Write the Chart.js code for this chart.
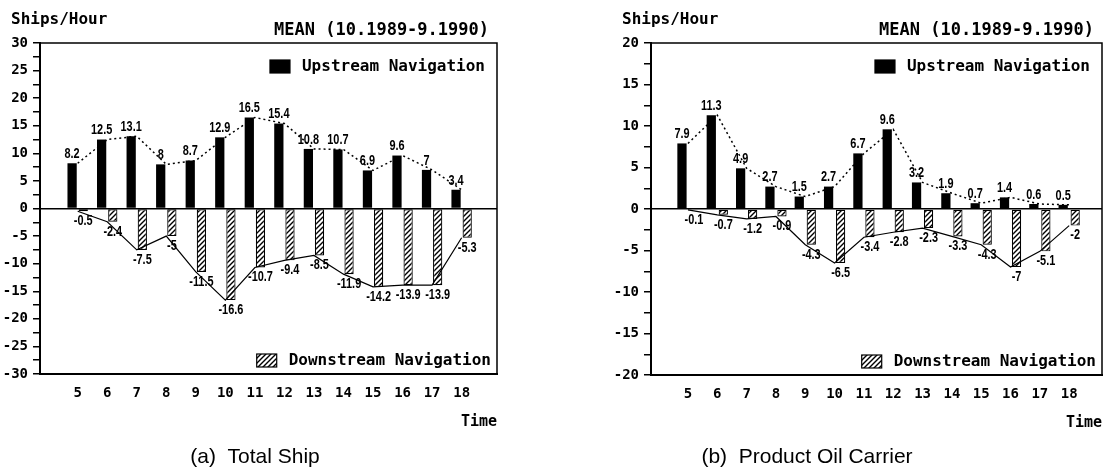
<!DOCTYPE html>
<html>
<head>
<meta charset="utf-8">
<script src="https://cdn.jsdelivr.net/npm/chart.js@4.4.0/dist/chart.umd.min.js"></script>
<style>
  body { margin: 0; background: #fff; }
  .panel { position: absolute; top: 0; width: 552px; height: 474px; }
</style>
</head>
<body>
<div class="panel" style="left:0"><canvas id="totalChart" width="552" height="474"></canvas></div>
<div class="panel" style="left:552px"><canvas id="oilChart" width="552" height="474"></canvas></div>
<script>
const hours = [5, 6, 7, 8, 9, 10, 11, 12, 13, 14, 15, 16, 17, 18];

const totalUp = [8.2, 12.5, 13.1, 8, 8.7, 12.9, 16.5, 15.4, 10.8, 10.7, 6.9, 9.6, 7, 3.4];
const totalDown = [-0.5, -2.4, -7.5, -5, -11.5, -16.6, -10.7, -9.4, -8.5, -11.9, -14.2, -13.9, -13.9, -5.3];
const totalYRange = [-30, 30];

const oilUp = [7.9, 11.3, 4.9, 2.7, 1.5, 2.7, 6.7, 9.6, 3.2, 1.9, 0.7, 1.4, 0.6, 0.5];
const oilDown = [-0.1, -0.7, -1.2, -0.9, -4.3, -6.5, -3.4, -2.8, -2.3, -3.3, -4.3, -7, -5.1, -2];
const oilYRange = [-20, 20];

const MONO = "'DejaVu Sans Mono', 'Liberation Mono', monospace";
const SANS = "'Liberation Sans', Arial, sans-serif";

function makeHatch() {
  const c = document.createElement('canvas');
  c.width = 5; c.height = 5;
  const g = c.getContext('2d');
  g.fillStyle = '#fff';
  g.fillRect(0, 0, 5, 5);
  g.strokeStyle = '#000';
  g.lineWidth = 1.4;
  g.beginPath();
  g.moveTo(-1, 6); g.lineTo(6, -1);
  g.moveTo(-1, 1); g.lineTo(1, -1);
  g.moveTo(4, 6); g.lineTo(6, 4);
  g.stroke();
  return g.createPattern(c, 'repeat');
}
const hatch = makeHatch();

function drawText(ctx, text, x, y, font, align, baseline, sx) {
  ctx.save();
  ctx.font = font;
  ctx.textAlign = align;
  ctx.textBaseline = baseline;
  ctx.fillStyle = '#000';
  ctx.translate(x, y);
  ctx.scale(sx, 1);
  ctx.fillText(text, 0, 0);
  ctx.restore();
}

function legendItem(ctx, text, right, y, fill) {
  ctx.save();
  ctx.font = `bold 16px ${MONO}`;
  const w = ctx.measureText(text).width;
  ctx.restore();
  drawText(ctx, text, right, y, `bold 16px ${MONO}`, 'right', 'middle', 1);
  const bx = right - w - 12 - 20;
  ctx.save();
  ctx.fillStyle = fill;
  ctx.fillRect(bx, y - 7, 20, 13);
  ctx.strokeStyle = '#000';
  ctx.lineWidth = 1.2;
  ctx.strokeRect(bx, y - 7, 20, 13);
  ctx.restore();
}

function makeDecor(caption) {
  return {
    id: 'decor',
    afterDatasetsDraw(chart) {
      const ctx = chart.ctx;
      [0, 1].forEach(di => {
        const ds = chart.data.datasets[di];
        chart.getDatasetMeta(di).data.forEach((el, i) => {
          const v = ds.data[i].y;
          if (v >= 0) {
            drawText(ctx, String(v), el.x, el.y - 2, `bold 14px ${SANS}`, 'center', 'bottom', 0.78);
          } else {
            drawText(ctx, String(v), el.x, el.y + 3, `bold 14px ${SANS}`, 'center', 'top', 0.78);
          }
        });
      });
    },
    afterDraw(chart) {
      const ctx = chart.ctx;
      const a = chart.chartArea;
      ctx.save();
      ctx.strokeStyle = '#000';
      ctx.lineWidth = 1.5;
      ctx.beginPath();
      ctx.moveTo(a.left, a.top);
      ctx.lineTo(a.right, a.top);
      ctx.lineTo(a.right, a.bottom);
      ctx.stroke();
      ctx.restore();

      drawText(ctx, 'Ships/Hour', a.left - 29, 20, `bold 16px ${MONO}`, 'left', 'middle', 1);
      drawText(ctx, 'MEAN (10.1989-9.1990)', a.right - 8, 31, `bold 17px ${MONO}`, 'right', 'middle', 1);

      legendItem(ctx, 'Upstream Navigation', a.right - 12, a.top + 24, '#000');
      legendItem(ctx, 'Downstream Navigation', a.right - 6, a.bottom - 13, hatch);

      drawText(ctx, caption, 255, 457, `21px ${SANS}`, 'center', 'middle', 1);
    }
  };
}

function buildChart(canvasId, up, down, yRange, xMin, xMax, pad, catPct, barPct, caption) {
  const upPoints = hours.map((h, i) => ({ x: h, y: up[i] }));
  const downPoints = hours.map((h, i) => ({ x: h, y: down[i] }));

  return new Chart(document.getElementById(canvasId), {
    type: 'bar',
    data: {
      datasets: [
        {
          label: 'Upstream Navigation',
          data: upPoints,
          backgroundColor: '#000',
          borderWidth: 0,
          categoryPercentage: catPct,
          barPercentage: barPct,
          order: 2
        },
        {
          label: 'Downstream Navigation',
          data: downPoints,
          backgroundColor: hatch,
          borderColor: '#000',
          borderWidth: 1.2,
          borderSkipped: false,
          categoryPercentage: catPct,
          barPercentage: barPct,
          order: 2
        },
        {
          type: 'line',
          data: upPoints,
          borderColor: '#000',
          borderWidth: 1.5,
          borderDash: [2, 3],
          pointRadius: 0,
          tension: 0,
          order: 1
        },
        {
          type: 'line',
          data: downPoints,
          borderColor: '#000',
          borderWidth: 1.2,
          pointRadius: 0,
          tension: 0,
          order: 1
        }
      ]
    },
    options: {
      responsive: false,
      animation: false,
      devicePixelRatio: 1,
      layout: { padding: pad },
      plugins: {
        legend: { display: false },
        tooltip: { enabled: false }
      },
      scales: {
        x: {
          type: 'linear',
          min: xMin,
          max: xMax,
          afterFit: scale => { scale.height = 60; },
          grid: { display: false, drawTicks: false },
          border: { display: true, color: '#000', width: 2 },
          ticks: {
            stepSize: 1,
            includeBounds: false,
            padding: 11,
            color: '#000',
            font: { family: MONO, size: 14, weight: 'bold' }
          },
          title: {
            display: true,
            text: 'Time',
            align: 'end',
            color: '#000',
            font: { family: MONO, size: 15, weight: 'bold' },
            padding: { top: 0, bottom: 3 }
          }
        },
        y: {
          min: yRange[0],
          max: yRange[1],
          afterFit: scale => { scale.width = 40; },
          grid: {
            drawOnChartArea: true,
            color: c => (c.tick && c.tick.value === 0 ? '#000' : 'rgba(0,0,0,0)'),
            lineWidth: 1.5,
            tickColor: '#000',
            tickLength: 7,
            tickWidth: 1.5
          },
          border: { display: true, color: '#000', width: 2 },
          ticks: {
            stepSize: 2.5,
            autoSkip: false,
            padding: 5,
            color: '#000',
            font: { family: MONO, size: 14, weight: 'bold' },
            callback: v => (v % 5 === 0 ? v : '')
          }
        }
      }
    },
    plugins: [makeDecor(caption)]
  });
}

buildChart('totalChart', totalUp, totalDown, totalYRange, 4.277, 18.645,
  { left: 0, right: 55, top: 43, bottom: 40 }, 0.755, 0.83, '(a)  Total Ship');
buildChart('oilChart', oilUp, oilDown, oilYRange, 4.288, 18.57,
  { left: 59, right: 2, top: 43, bottom: 39 }, 0.82, 0.77, '(b)  Product Oil Carrier');
</script>
</body>
</html>
